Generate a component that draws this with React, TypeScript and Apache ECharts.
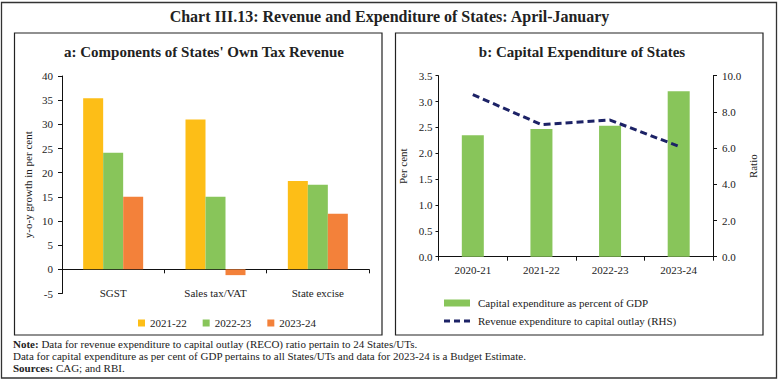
import React, { useEffect, useRef } from 'react';
import * as echarts from 'echarts';

const taxCategories = ['SGST', 'Sales tax/VAT', 'State excise'];
const taxYears = ['2021-22', '2022-23', '2023-24'];
const growth2122 = [35.4, 31.0, 18.3];
const growth2223 = [24.1, 15.0, 17.5];
const growth2324 = [15.0, -1.2, 11.5];

const capexYears = ['2020-21', '2021-22', '2022-23', '2023-24'];
const capexGdp = [2.35, 2.47, 2.53, 3.2];
const recoRatio = [8.95, 7.3, 7.55, 6.1];

const capexName = 'Capital expenditure as percent of GDP';
const recoName = 'Revenue expenditure to capital outlay (RHS)';

const SERIF = '"Liberation Serif", "DejaVu Serif", serif';
const YELLOW = '#FDBE17';
const GREEN = '#88C55A';
const ORANGE = '#F3813A';
const NAVY = '#1C2266';
const TXT = '#222';

export default function App() {
  const ref = useRef<HTMLDivElement>(null);
  useEffect(() => {
    if (!ref.current) return;
    const chart = echarts.init(ref.current, undefined, { renderer: 'svg' });
    const axisLabel = { fontFamily: SERIF, fontSize: 11, color: TXT };
    const axisLine = { lineStyle: { color: '#111', width: 1 } };
    const option: any = {
      animation: false,
      backgroundColor: '#fff',
      textStyle: { fontFamily: SERIF },
      grid: [
        { left: 62, top: 76, width: 307, height: 217.5 },
        { left: 438.5, top: 75.7, width: 274.5, height: 181 },
      ],
      xAxis: [
        {
          type: 'category', gridIndex: 0, data: taxCategories,
          axisLine: { ...axisLine, onZero: true },
          axisTick: { show: true, length: 4, alignWithLabel: false, lineStyle: { color: '#111' } },
          axisLabel: { show: false },
        },
        {
          type: 'category', gridIndex: 0, data: taxCategories, position: 'bottom',
          axisLine: { show: false, onZero: false },
          axisTick: { show: false },
          axisLabel: { ...axisLabel, margin: -1, verticalAlign: 'middle' },
        },
        {
          type: 'category', gridIndex: 1, data: capexYears,
          axisLine,
          axisTick: { show: true, length: 4, alignWithLabel: false, lineStyle: { color: '#111' } },
          axisLabel: { ...axisLabel, margin: 8 },
        },
      ],
      yAxis: [
        {
          type: 'value', gridIndex: 0, min: -5, max: 40, interval: 5,
          name: 'y-o-y growth in per cent', nameLocation: 'middle', nameGap: 29, nameRotate: 90,
          nameTextStyle: { fontFamily: SERIF, fontSize: 11, color: TXT },
          axisLine: { show: true, ...axisLine },
          axisTick: { show: true, length: 4, lineStyle: { color: '#111' } },
          axisLabel: { ...axisLabel, margin: 9 },
          splitLine: { show: false },
        },
        {
          type: 'value', gridIndex: 1, min: 0, max: 3.5, interval: 0.5,
          name: 'Per cent', nameLocation: 'middle', nameGap: 30, nameRotate: 90,
          nameTextStyle: { fontFamily: SERIF, fontSize: 11, color: TXT },
          axisLine: { show: true, ...axisLine },
          axisTick: { show: true, length: 3, lineStyle: { color: '#111' } },
          axisLabel: { ...axisLabel, margin: 6, formatter: (v: number) => v.toFixed(1) },
          splitLine: { show: false },
        },
        {
          type: 'value', gridIndex: 1, min: 0, max: 10, interval: 2, position: 'right',
          name: 'Ratio', nameLocation: 'middle', nameGap: 34, nameRotate: 90,
          nameTextStyle: { fontFamily: SERIF, fontSize: 11, color: TXT },
          axisLine: { show: true, ...axisLine },
          axisTick: { show: true, length: 4, lineStyle: { color: '#111' } },
          axisLabel: { ...axisLabel, margin: 9, formatter: (v: number) => v.toFixed(1) },
          splitLine: { show: false },
        },
      ],
      legend: [
        {
          data: taxYears, left: 133, top: 312.5, itemWidth: 7, itemHeight: 7, itemGap: 16,
          icon: 'rect', textStyle: { fontFamily: SERIF, fontSize: 11, color: TXT },
        },
        {
          data: [{ name: capexName, icon: 'rect' }], left: 439, top: 292.5,
          itemWidth: 26, itemHeight: 7,
          textStyle: { fontFamily: SERIF, fontSize: 11, color: TXT, padding: [0, 0, 0, 3] },
        },
        {
          data: [{ name: recoName, icon: 'path://M0,0h6v3h-6z M10,0h6v3h-6z M20,0h6v3h-6z' }],
          left: 439, top: 310.5, itemWidth: 26, itemHeight: 3,
          itemStyle: { color: NAVY, borderWidth: 0 },
          textStyle: { fontFamily: SERIF, fontSize: 11, color: TXT, padding: [0, 0, 0, 3] },
        },
      ],
      series: [
        { name: taxYears[0], type: 'bar', xAxisIndex: 0, yAxisIndex: 0, data: growth2122, barWidth: 20, barGap: '0%', itemStyle: { color: YELLOW } },
        { name: taxYears[1], type: 'bar', xAxisIndex: 0, yAxisIndex: 0, data: growth2223, barWidth: 20, barGap: '0%', itemStyle: { color: GREEN } },
        { name: taxYears[2], type: 'bar', xAxisIndex: 0, yAxisIndex: 0, data: growth2324, barWidth: 20, barGap: '0%', itemStyle: { color: ORANGE } },
        { name: capexName, type: 'bar', xAxisIndex: 2, yAxisIndex: 1, data: capexGdp, barWidth: 22, itemStyle: { color: GREEN } },
        {
          name: recoName, type: 'line', xAxisIndex: 2, yAxisIndex: 2, data: recoRatio,
          symbol: 'none', showSymbol: false, z: 5,
          lineStyle: { color: NAVY, width: 3, type: [7, 4] }, itemStyle: { color: NAVY },
        },
      ],
      graphic: [
        { type: 'rect', shape: { x: 1.5, y: 2.5, width: 775, height: 375.5 }, style: { fill: 'none', stroke: '#333', lineWidth: 1.3 }, silent: true },
        { type: 'rect', shape: { x: 14.5, y: 33, width: 367.5, height: 302 }, style: { fill: 'none', stroke: '#222', lineWidth: 1.2 }, silent: true },
        { type: 'rect', shape: { x: 395.5, y: 33, width: 367.5, height: 302 }, style: { fill: 'none', stroke: '#222', lineWidth: 1.2 }, silent: true },
        { type: 'text', x: 389.5, y: 16, style: { text: 'Chart III.13: Revenue and Expenditure of States: April-January', font: `bold 16px ${SERIF}`, fill: TXT, align: 'center', verticalAlign: 'middle' } },
        { type: 'text', x: 204, y: 52, style: { text: "a: Components of States' Own Tax Revenue", font: `bold 15px ${SERIF}`, fill: TXT, align: 'center', verticalAlign: 'middle' } },
        { type: 'text', x: 582, y: 52, style: { text: 'b: Capital Expenditure of States', font: `bold 15px ${SERIF}`, fill: TXT, align: 'center', verticalAlign: 'middle' } },
        { type: 'text', x: 13, y: 344, style: { text: '{b|Note:} Data for revenue expenditure to capital outlay (RECO) ratio pertain to 24 States/UTs.', font: `11px ${SERIF}`, fill: TXT, verticalAlign: 'middle', rich: { b: { fontWeight: 'bold', fontFamily: SERIF, fontSize: 11, fill: TXT } } } },
        { type: 'text', x: 13, y: 356, style: { text: 'Data for capital expenditure as per cent of GDP pertains to all States/UTs and data for 2023-24 is a Budget Estimate.', font: `11px ${SERIF}`, fill: TXT, verticalAlign: 'middle' } },
        { type: 'text', x: 13, y: 368, style: { text: '{b|Sources:} CAG; and RBI.', font: `11px ${SERIF}`, fill: TXT, verticalAlign: 'middle', rich: { b: { fontWeight: 'bold', fontFamily: SERIF, fontSize: 11, fill: TXT } } } },
      ],
    };
    chart.setOption(option);
    return () => chart.dispose();
  }, []);
  return <div ref={ref} style={{ position: 'fixed', left: 0, top: 0, width: 779, height: 384 }} />;
}
